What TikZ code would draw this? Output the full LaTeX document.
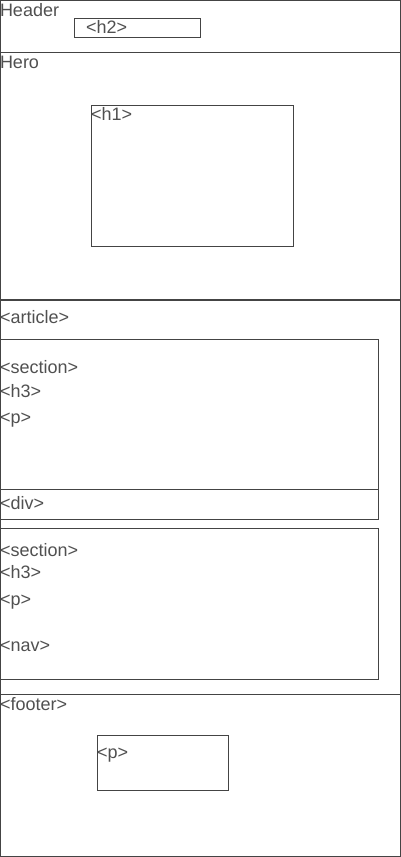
\documentclass[tikz,border=0pt]{standalone}
\usepackage{fontspec}
\setmainfont{Liberation Sans}
\definecolor{wireline}{HTML}{444444}
\definecolor{wiretext}{HTML}{505050}
\tikzset{
  block/.style={draw=wireline,line width=1pt,anchor=north west,inner sep=0pt,outer sep=0pt},
  tag/.style={anchor=base west,inner sep=0pt,outer sep=0pt,text=wiretext,font=\tagfontsize},
}
\providecommand{\tagfontsize}{\fontsize{18}{21}\selectfont}

\begin{document}
\begin{tikzpicture}[x=1pt,y=-1pt]
    \pgfmathsetmacro{\pagewidth}{400}
    \pgfmathsetmacro{\sectionwidth}{378}
    \useasboundingbox (0,0) rectangle (401,857);
    % page regions
    \node[block,minimum width=\pagewidth pt,minimum height=52pt] (header) at (0.5,0.5) {};
    \node[block,minimum width=\pagewidth pt,minimum height=247pt] (hero) at (0.5,52.5) {};
    \node[block,minimum width=\pagewidth pt,minimum height=394pt] (article) at (0.5,300.5) {};
    \node[block,minimum width=\pagewidth pt,minimum height=161.5pt] (footer) at (0.5,694.5) {};
    % inner boxes
    \node[block,minimum width=126pt,minimum height=19pt] (h2box) at (74.5,18.5) {};
    \node[block,minimum width=202pt,minimum height=141pt] (h1box) at (91.5,105.5) {};
    \node[block,minimum width=\sectionwidth pt,minimum height=150pt] (sectionA) at (0.5,339.5) {};
    \node[block,minimum width=\sectionwidth pt,minimum height=30pt] (divbox) at (0.5,489.5) {};
    \node[block,minimum width=\sectionwidth pt,minimum height=151pt] (sectionB) at (0.5,528.5) {};
    \node[block,minimum width=131pt,minimum height=55pt] (footp) at (97.5,735.5) {};
    % labels
    \node[tag] (headertext) at (0,16) {Header};
    \node[tag] (h2text) at (86,33.5) {<h2>};
    \node[tag] (herotext) at (0,68) {Hero};
    \node[tag] (h1text) at (91,120) {<h1>};
    \node[tag] (articletext) at (0,323.5) {<article>};
    \foreach \y/\t [count=\i] in {373/<section>,397/<h3>,423/<p>,509.5/<div>}
        \node[tag] (sectionAtext\i) at (0,\y) {\t};
    \foreach \y/\t [count=\i] in {556.5/<section>,578.5/<h3>,605/<p>,651.5/<nav>}
        \node[tag] (sectionBtext\i) at (0,\y) {\t};
    \node[tag] (footertext) at (0,710.5) {<footer>};
    \node[tag] (footptext) at (97,758.5) {<p>};
\end{tikzpicture}
\end{document}
